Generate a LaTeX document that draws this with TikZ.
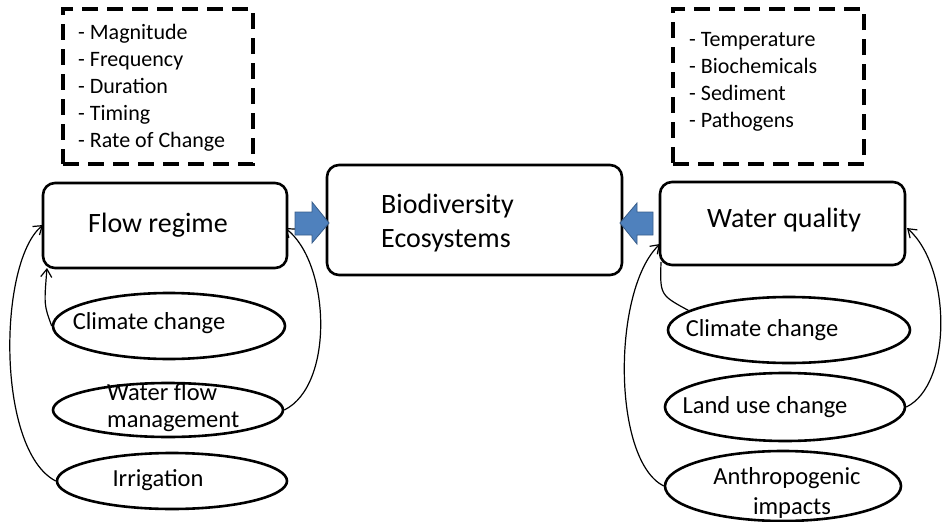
\documentclass[tikz,border=0pt]{standalone}
\usepackage{fontspec}
\setmainfont{Carlito}
\usetikzlibrary{arrows.meta,shapes.geometric,calc}
\definecolor{arrfill}{HTML}{4F81BD}
\definecolor{arrline}{HTML}{385D8A}
\tikzset{
  mainbox/.style={draw, line width=2.6pt, rounded corners=12pt, inner sep=0pt},
  listbox/.style={draw, line width=3.6pt, dash pattern=on 16pt off 9pt, inner sep=0pt},
  oval/.style={draw, ellipse, line width=2.6pt, inner sep=0pt},
  boxtxt/.style={font=\fontsize{28}{35}\selectfont, inner sep=0pt},
  ovtxt/.style={font=\fontsize{24.5}{30}\selectfont, inner sep=0pt},
  listtxt/.style={font=\fontsize{22}{27}\selectfont, inner sep=0pt, align=left, anchor=north west},
  conn/.style={line width=1.2pt, -{Straight Barb[length=8pt,width=11pt,line width=1.2pt]}},
  connplain/.style={line width=1.2pt},
  bigarrow/.style={fill=arrfill, draw=arrline, line width=0.8pt}
}
\begin{document}
\begin{tikzpicture}[x=1pt,y=-1pt]
\useasboundingbox (0,0) rectangle (943,522);

% dashed list boxes
\node[listbox, minimum width=190pt, minimum height=155pt] (listL) at (158,86.5) {};
\node[listbox, minimum width=191pt, minimum height=155pt] (listR) at (768.5,86.5) {};
\node[listtxt] (listLt) at (78,24) {- Magnitude\\- Frequency\\- Duration\\- Timing\\- Rate of Change};
\node[listtxt] (listRt) at (689,32) {- Temperature\\- Biochemicals\\- Sediment\\- Pathogens};

% ellipses
\node[oval, minimum width=232pt, minimum height=66pt] (ccL) at (169,326) {};
\node[oval, minimum width=230pt, minimum height=54pt] (wfm) at (168,410) {};
\node[oval, minimum width=230pt, minimum height=56pt] (irr) at (172,481) {};
\node[oval, minimum width=242pt, minimum height=66pt] (ccR) at (789,330) {};
\node[oval, minimum width=240pt, minimum height=68pt] (luc) at (785,407) {};
\node[oval, minimum width=236pt, minimum height=70pt] (ant) at (783,486) {};

% connectors (drawn before the boxes)
\draw[conn] (ccL.west) .. controls (44,305) .. ([xshift=4pt]$(43,268)$) coordinate (tipA);
\draw[conn] (irr.west) .. controls (-4,450) and (-2,262) .. (43,225);
\draw[conn] (wfm.east) .. controls (335,385) and (330,262) .. (285,228);
\draw[connplain] (ccR.169) .. controls (660,295) .. (661,262);
\draw[conn] (ant.west) .. controls (612,460) and (612,290) .. (660,244);
\draw[conn] (luc.east) .. controls (952,385) and (952,268) .. (907,228);

% main boxes
\node[mainbox, fill=white, minimum width=244pt, minimum height=85pt] (flow) at (165,225.5) {};
\node[mainbox, fill=white, minimum width=295pt, minimum height=110pt] (bio) at (474.5,220) {};
\node[mainbox, fill=white, minimum width=245pt, minimum height=83pt] (wq) at (782.5,223.5) {};

\node[boxtxt] (flowt) at (158,225) {Flow regime};
\node[boxtxt, anchor=west] (biot1) at (381,206) {Biodiversity};
\node[boxtxt, anchor=west] (biot2) at (381,241) {Ecosystems};
\node[boxtxt] (wqt) at (784,220) {Water quality};

% ellipse texts
\node[ovtxt] (ccLt) at (149,323) {Climate change};
\node[ovtxt, anchor=west] (wfmt1) at (107,392) {Water flow};
\node[ovtxt, anchor=west] (wfmt2) at (107,422) {management};
\node[ovtxt] (irrt) at (158,480) {Irrigation};
\node[ovtxt] (ccRt) at (762,330) {Climate change};
\node[ovtxt] (luct) at (765,407) {Land use change};
\node[ovtxt] (antt1) at (787,478) {Anthropogenic};
\node[ovtxt] (antt2) at (792,508) {impacts};

% blue block arrows
\draw[bigarrow] (295,212) -- (312,212) -- (312,202) -- (329,223) -- (312,243) -- (312,235) -- (295,235) -- cycle;
\draw[bigarrow] (653,212) -- (637,212) -- (637,203) -- (620,223) -- (637,244) -- (637,235) -- (653,235) -- cycle;
\end{tikzpicture}
\end{document}
